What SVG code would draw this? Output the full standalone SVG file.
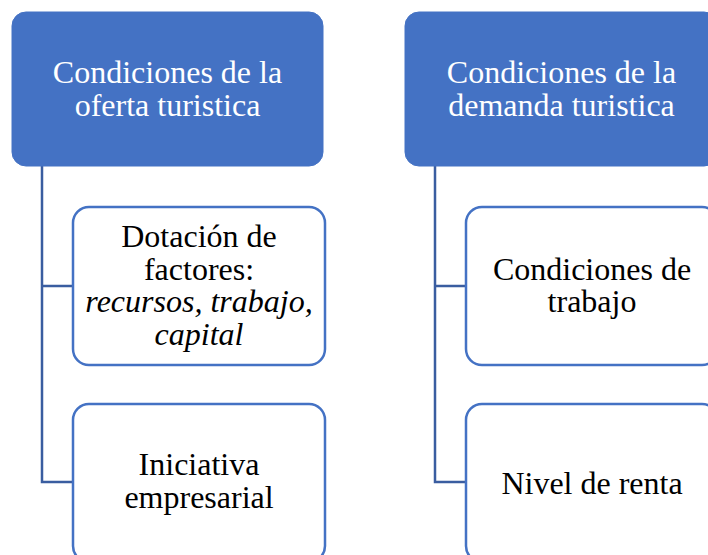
<svg xmlns="http://www.w3.org/2000/svg" width="708" height="555" viewBox="0 0 708 555">
<style>
.head{fill:#4472C4;stroke:#4472C4;stroke-width:1}
.child{fill:#FFFFFF;stroke:#4472C4;stroke-width:2.5}
.conn{fill:none;stroke:#3A5DA0;stroke-width:2.5}
.w{fill:#FFFFFF}
.b{fill:#000000}
.i{font-style:italic}
</style>
<rect width="708" height="555" fill="#FFFFFF"/>
<g id="connectors">
<path class="conn" d="M42,166 V482 H73 M42,286 H73"/>
<path class="conn" d="M435,166 V482 H466 M435,286 H466"/>
</g>
<g font-family="'Liberation Serif', 'Times New Roman', serif" font-size="32" text-anchor="middle">
<g id="oferta">
<rect class="head" x="12" y="12" width="311" height="154" rx="14"/>
<text class="w" x="167.5" y="83">Condiciones de la</text>
<text class="w" x="167.5" y="116">oferta turistica</text>
</g>
<g id="dotacion">
<rect class="child" x="73" y="207" width="252" height="158" rx="16"/>
<text class="b" x="199" y="247">Dotación de</text>
<text class="b" x="199" y="280">factores:</text>
<text class="b i" x="199" y="312">recursos, trabajo,</text>
<text class="b i" x="199" y="345">capital</text>
</g>
<g id="iniciativa">
<rect class="child" x="73" y="404" width="252" height="158" rx="16"/>
<text class="b" x="199" y="475">Iniciativa</text>
<text class="b" x="199" y="508">empresarial</text>
</g>
<g id="demanda">
<rect class="head" x="405" y="12" width="313" height="154" rx="14"/>
<text class="w" x="561.5" y="83">Condiciones de la</text>
<text class="w" x="561.5" y="116">demanda turistica</text>
</g>
<g id="trabajo">
<rect class="child" x="466" y="207" width="252" height="158" rx="16"/>
<text class="b" x="592" y="280">Condiciones de</text>
<text class="b" x="592" y="312">trabajo</text>
</g>
<g id="renta">
<rect class="child" x="466" y="404" width="252" height="158" rx="16"/>
<text class="b" x="592" y="494">Nivel de renta</text>
</g>
</g>
</svg>
